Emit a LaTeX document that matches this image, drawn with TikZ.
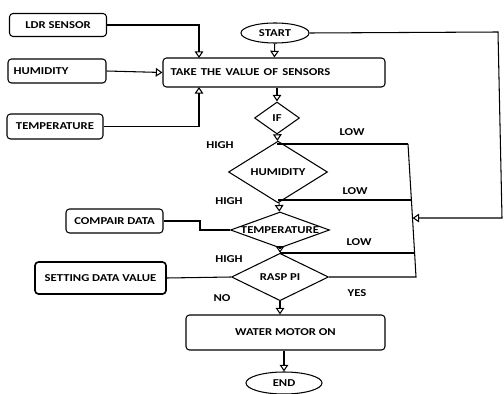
\documentclass[tikz,border=0pt]{standalone}
\usepackage{fontspec}
\setmainfont{Carlito}
\usetikzlibrary{positioning,arrows.meta,shapes.geometric,calc}
\newcommand{\wtxt}[1]{\scalebox{1.2}[1]{#1}}

\begin{document}
\begin{tikzpicture}[x=0.03cm, y=-0.03cm,
    every node/.style={font=\bfseries\fontsize{9}{10}\selectfont},
    box/.style={rectangle, draw=black, line width=0.9pt, rounded corners=3pt, inner sep=2pt},
    dec/.style={diamond, draw=black, line width=0.9pt, inner sep=0pt},
    term/.style={ellipse, draw=black, line width=0.9pt, inner sep=0pt},
    line/.style={line width=0.9pt},
    arrow/.style={line width=0.9pt, -{Triangle[open, length=2mm, width=2.6mm]}},
    lbl/.style={inner sep=1pt}
]
    \useasboundingbox (0,0) rectangle (504,394);

    % inputs
    \node[box, minimum width=2.91cm, minimum height=0.69cm] (ldr) at (58,25) {\wtxt{LDR SENSOR}};
    \node[box, minimum width=2.94cm, minimum height=0.72cm, text width=2.6cm, align=left] (hmd) at (57,71) {\wtxt{HUMIDITY}};
    \node[box, minimum width=2.88cm, minimum height=0.75cm] (tmpin) at (55,126.5) {\wtxt{TEMPERATURE}};
    \node[box, minimum width=2.91cm, minimum height=0.72cm] (cmp) at (114.5,221) {\wtxt{COMPAIR DATA}};
    \node[box, line width=1.4pt, minimum width=3.93cm, minimum height=0.96cm] (set) at (100.5,278) {\wtxt{SETTING DATA VALUE}};

    % main flow
    \node[term, minimum width=2.04cm, minimum height=0.6cm] (start) at (275,33) {\wtxt{START}};
    \node[box, minimum width=6.66cm, minimum height=0.87cm, text width=6.2cm, align=left] (take) at (274,72.5) {\wtxt{TAKE THE VALUE OF SENSORS}};
    \node[dec, minimum width=1.35cm, minimum height=0.96cm] (if) at (277,118) {\wtxt{IF}};
    \node[dec, minimum width=2.97cm, minimum height=1.08cm] (hum) at (278,172) {\wtxt{HUMIDITY}};
    \node[dec, minimum width=2.97cm, minimum height=1.08cm] (tmp) at (280,230) {\makebox[0pt]{\wtxt{TEMPERATURE}}};
    \node[dec, minimum width=2.91cm, minimum height=1.2cm] (rasp) at (280,277) {\wtxt{RASP PI}};
    \node[box, minimum width=5.97cm, minimum height=1.05cm] (motor) at (285.5,332.5) {\wtxt{WATER MOTOR ON}};
    \node[term, minimum width=2.28cm, minimum height=0.66cm] (end) at (284,383) {\wtxt{END}};

    % branch labels
    \node[lbl] (high1) at (220,145) {\wtxt{HIGH}};
    \node[lbl] (low1) at (352,132) {\wtxt{LOW}};
    \node[lbl] (high2) at (229,201) {\wtxt{HIGH}};
    \node[lbl] (low2) at (355,191) {\wtxt{LOW}};
    \node[lbl] (high3) at (229,259) {\wtxt{HIGH}};
    \node[lbl] (low3) at (359,242) {\wtxt{LOW}};
    \node[lbl] (yes) at (357,293) {\wtxt{YES}};
    \node[lbl] (no) at (222,298) {\wtxt{NO}};

    \coordinate (tk1) at (199,58);
    \coordinate (tk2) at (199,87);
    \coordinate (c1) at (200,225);
    \coordinate (r1) at (408,144);
    \coordinate (r2) at (411.4,200);
    \coordinate (r3) at (414.6,253);
    \coordinate (r4) at (416,277);
    \coordinate (r5) at (412.5,218);
    \coordinate (s1) at (498,32);
    \coordinate (s2) at (502,218);

    \draw[arrow] (ldr.east) -| (tk1);
    \draw[arrow] (hmd.east) -- (take.west);
    \draw[arrow] (tmpin.east) -| (tk2);
    \draw[line] (cmp.east) -| (c1) |- (tmp.west);
    \draw[line] (set.east) -- (rasp.west);

    \draw[arrow] (start) -- (take);
    \draw[arrow] (take.south -| if.north) -- (if);
    \draw[arrow] (if) -- (hum);
    \draw[arrow] (hum) -- (tmp);
    \draw[arrow] (tmp) -- (rasp);
    \draw[arrow] (rasp) -- (rasp.south |- motor.north);
    \draw[arrow] (motor.south -| end.north) -- (end);

    % low branches
    \draw[line] (if.south |- r1) -- (r1);
    \draw[line] (hum.south |- r2) -- (r2);
    \draw[line] (tmp.south |- r3) -- (r3);
    \draw[line] (rasp.east) -- (r4) -- (r3) -- (r2) -- (r1);
    \draw[arrow] (start.east) -- (s1) -- (s2) -- (r5);
\end{tikzpicture}
\end{document}
